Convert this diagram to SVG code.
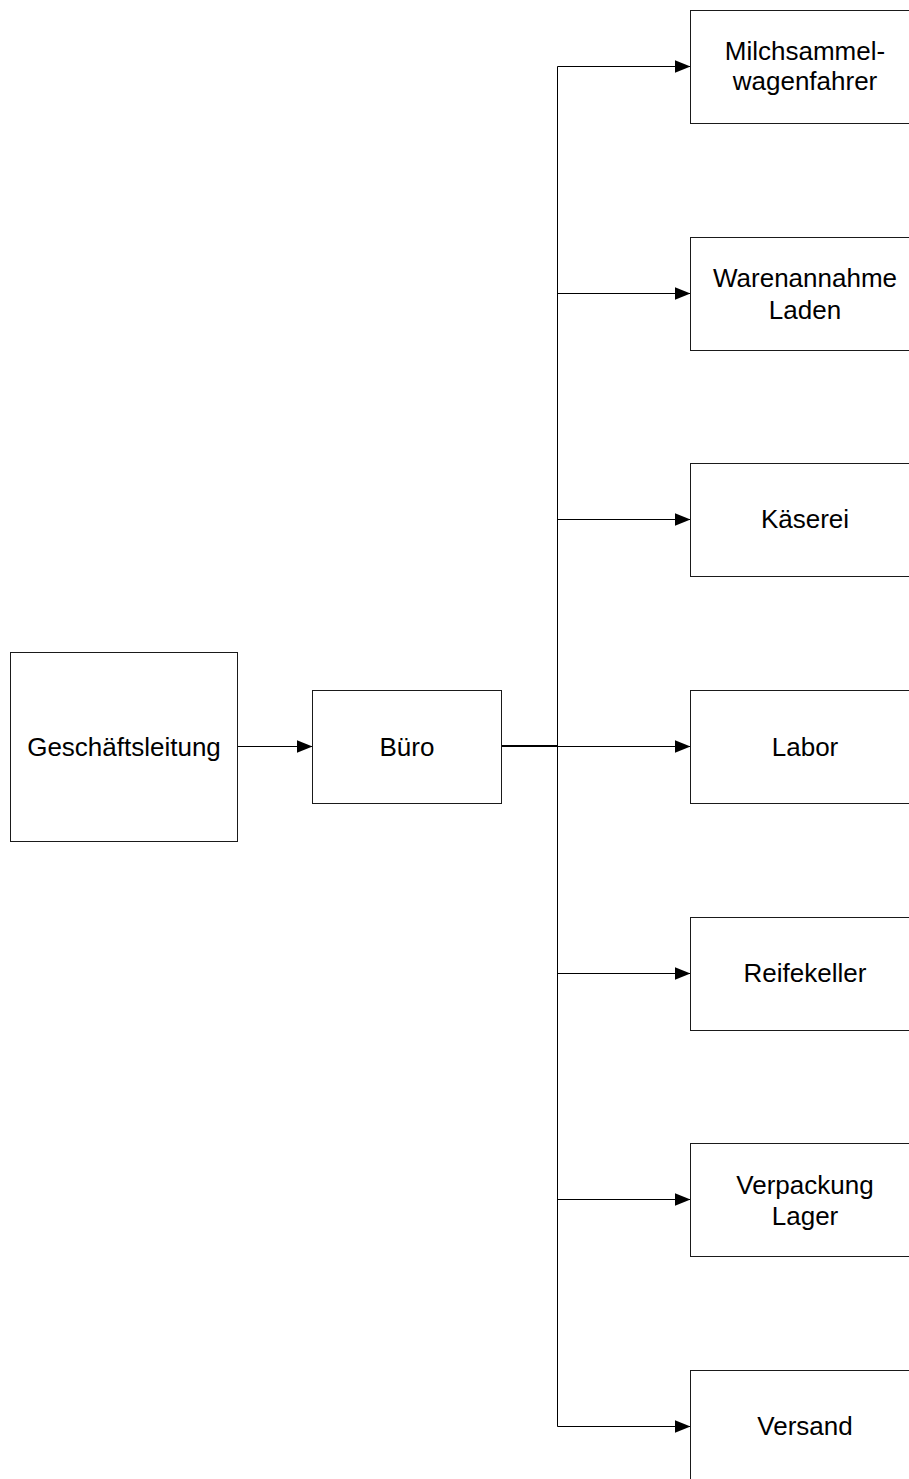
<svg xmlns="http://www.w3.org/2000/svg" width="909" height="1479" viewBox="0 0 909 1479">
  <style>
    .box { fill: #ffffff; stroke: #1a1a1a; stroke-width: 1; }
    .lbl { font-family: "Liberation Sans", Arial, sans-serif; font-size: 26px; fill: #000000; text-anchor: middle; }
    .wire { fill: none; stroke: #000000; stroke-width: 1; }
    .wire.bold { stroke-width: 2; }
  </style>
  <defs>
    <marker id="arrow" markerUnits="userSpaceOnUse" markerWidth="17" markerHeight="14" refX="16" refY="6.5" orient="auto">
      <path d="M0,0 L16,6.5 L0,13 z" fill="#000000"/>
    </marker>
  </defs>

  <rect width="909" height="1479" fill="#ffffff"/>

  <!-- connectors -->
  <g id="connectors">
    <line class="wire" x1="237" y1="746.5" x2="312.5" y2="746.5" marker-end="url(#arrow)"/>
    <line class="wire bold" x1="502" y1="746" x2="558" y2="746"/>
    <line class="wire" x1="557.5" y1="66.5" x2="557.5" y2="1426.5"/>
    <line class="wire" x1="557.5" y1="66.5" x2="690.5" y2="66.5" marker-end="url(#arrow)"/>
    <line class="wire" x1="557.5" y1="293.5" x2="690.5" y2="293.5" marker-end="url(#arrow)"/>
    <line class="wire" x1="557.5" y1="519.5" x2="690.5" y2="519.5" marker-end="url(#arrow)"/>
    <line class="wire" x1="557.5" y1="746.5" x2="690.5" y2="746.5" marker-end="url(#arrow)"/>
    <line class="wire" x1="557.5" y1="973.5" x2="690.5" y2="973.5" marker-end="url(#arrow)"/>
    <line class="wire" x1="557.5" y1="1199.5" x2="690.5" y2="1199.5" marker-end="url(#arrow)"/>
    <line class="wire" x1="557.5" y1="1426.5" x2="690.5" y2="1426.5" marker-end="url(#arrow)"/>
  </g>

  <!-- left column -->
  <g id="geschaeftsleitung">
    <rect class="box" x="10.5" y="652.5" width="227" height="189"/>
    <text class="lbl" x="124" y="755.5">Geschäftsleitung</text>
  </g>
  <g id="buero">
    <rect class="box" x="312.5" y="690.5" width="189" height="113"/>
    <text class="lbl" x="407" y="755.5">Büro</text>
  </g>

  <!-- departments -->
  <g id="milchsammelwagenfahrer">
    <rect class="box" x="690.5" y="10.5" width="227" height="113"/>
    <text class="lbl" x="805" y="59.5">Milchsammel-</text>
    <text class="lbl" x="805" y="89.5">wagenfahrer</text>
  </g>
  <g id="warenannahme">
    <rect class="box" x="690.5" y="237.5" width="227" height="113"/>
    <text class="lbl" x="805" y="286.5">Warenannahme</text>
    <text class="lbl" x="805" y="318.5">Laden</text>
  </g>
  <g id="kaeserei">
    <rect class="box" x="690.5" y="463.5" width="227" height="113"/>
    <text class="lbl" x="805" y="528">Käserei</text>
  </g>
  <g id="labor">
    <rect class="box" x="690.5" y="690.5" width="227" height="113"/>
    <text class="lbl" x="805" y="755.5">Labor</text>
  </g>
  <g id="reifekeller">
    <rect class="box" x="690.5" y="917.5" width="227" height="113"/>
    <text class="lbl" x="805" y="982">Reifekeller</text>
  </g>
  <g id="verpackung">
    <rect class="box" x="690.5" y="1143.5" width="227" height="113"/>
    <text class="lbl" x="805" y="1193.5">Verpackung</text>
    <text class="lbl" x="805" y="1224.5">Lager</text>
  </g>
  <g id="versand">
    <rect class="box" x="690.5" y="1370.5" width="227" height="113"/>
    <text class="lbl" x="805" y="1435">Versand</text>
  </g>
</svg>
